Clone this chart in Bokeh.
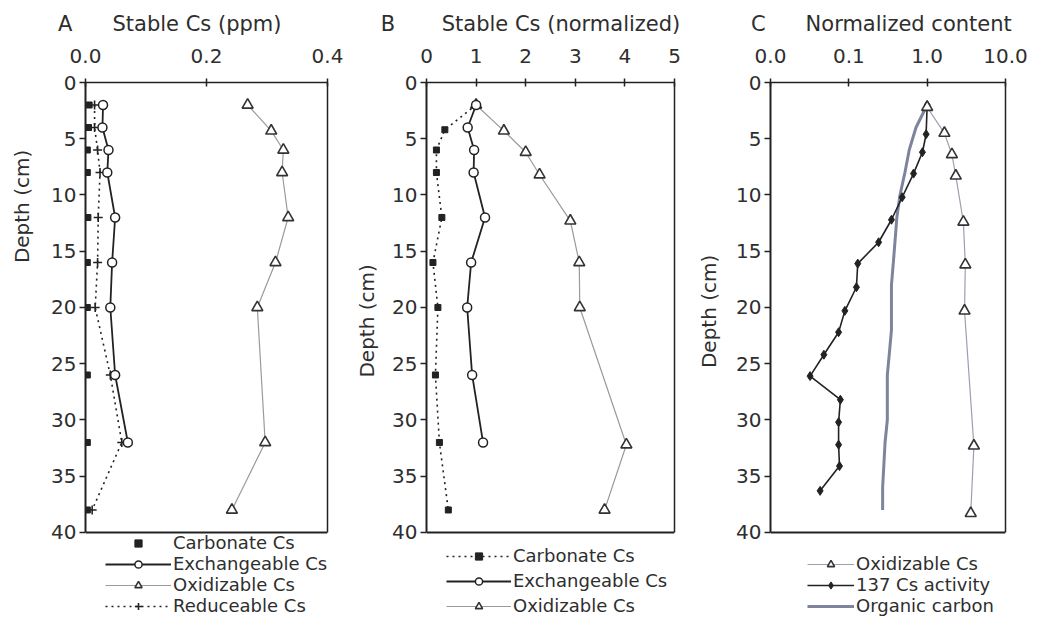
from bokeh.plotting import figure
from bokeh.layouts import row
from bokeh.models import (Range1d, FixedTicker, Legend, LegendItem, NumeralTickFormatter,
                          LinearAxis, Span)
from bokeh.embed import file_html
from bokeh.resources import INLINE

# ---------------- data ----------------
# Panel A: stable Cs (ppm)
a_depth = [2, 4, 6, 8, 12, 16, 20, 26, 32, 38]
a_carbonate = [0.006, 0.005, 0.003, 0.003, 0.004, 0.003, 0.003, 0.003, 0.003, 0.003]
a_exch_depth = [2, 4, 6, 8, 12, 16, 20, 26, 32]
a_exchangeable = [0.029, 0.028, 0.038, 0.036, 0.049, 0.044, 0.041, 0.049, 0.070]
a_oxid_depth = [2, 4.3, 6, 8, 12, 16, 20, 32, 38]
a_oxidizable = [0.268, 0.307, 0.327, 0.325, 0.335, 0.314, 0.284, 0.297, 0.242]
a_reduceable = [0.015, 0.015, 0.020, 0.024, 0.021, 0.020, 0.016, 0.041, 0.060, 0.011]
a_ticks = [0.0, 0.2, 0.4]

# Panel B: stable Cs (normalized)
b_depth = [2, 4.2, 6, 8, 12, 16, 20, 26, 32, 38]
b_carbonate = [1.0, 0.37, 0.20, 0.20, 0.31, 0.13, 0.23, 0.18, 0.26, 0.44]
b_exch_depth = [2, 4, 6, 8, 12, 16, 20, 26, 32]
b_exchangeable = [1.0, 0.83, 0.96, 0.95, 1.18, 0.90, 0.82, 0.92, 1.14]
b_oxid_depth = [2, 4.3, 6.2, 8.2, 12.3, 16, 20, 32.2, 38]
b_oxidizable = [1.0, 1.56, 2.0, 2.28, 2.9, 3.08, 3.09, 4.03, 3.59]
b_ticks = [0, 1, 2, 3, 4, 5]

# Panel C: normalized content (log scale)
c_oxid_depth = [2.2, 4.5, 6.4, 8.3, 12.4, 16.2, 20.3, 32.3, 38.3]
c_oxidizable = [1.0, 1.66, 2.07, 2.32, 2.9, 3.07, 3.0, 3.95, 3.6]
c_cs_depth = [2, 4.6, 6.2, 8.1, 10.2, 12.2, 14.2, 16.1, 18.2, 20.3, 22.2, 24.2, 26.1, 28.2, 30.2, 32.2, 34.1, 36.3]
c_cs137 = [1.0, 0.97, 0.87, 0.67, 0.48, 0.35, 0.24, 0.13, 0.125, 0.089, 0.074, 0.048, 0.032,
           0.078, 0.074, 0.074, 0.076, 0.043]
c_oc_depth = [2, 4, 6, 8, 10, 12, 14, 16, 18, 20, 22, 24, 26, 28, 30, 32, 34, 36, 38]
c_organic = [1.0, 0.72, 0.59, 0.52, 0.45, 0.41, 0.39, 0.37, 0.35, 0.35, 0.35, 0.33, 0.31,
             0.31, 0.31, 0.29, 0.28, 0.27, 0.27]
c_ticks = [0.01, 0.1, 1, 10]
c_tick_labels = ["0.0", "0.1", "1.0", "10.0"]

y_ticks = [0, 5, 10, 15, 20, 25, 30, 35, 40]
DEPTH_MAX = 40

# ---------------- style ----------------
FONT = "DejaVu Sans"
TXT = "#2e2e2e"
OX_LINE = "#9a9a9a"
MK = "#333333"
EDGE = "#222222"
NB = "\u00a0"
# the plotting frame continues below the 40 cm line so the legends sit inside it
Y_BOTTOM = 47.47


def make_fig(width, left, right, x_range, title, ylab_pad, ylab_standoff, x_type="linear"):
    p = figure(width=width, height=616, x_range=x_range, y_range=Range1d(Y_BOTTOM, 0),
               x_axis_location="above", x_axis_type=x_type,
               output_backend="svg", toolbar_location=None,
               min_border_left=left, min_border_right=right,
               min_border_top=82, min_border_bottom=0)
    p.grid.visible = False
    p.outline_line_color = None
    xa = p.xaxis[0]
    xa.major_tick_in = 4
    xa.major_tick_out = 4
    xa.minor_tick_in = 0
    xa.minor_tick_out = 0
    xa.axis_line_color = EDGE
    xa.axis_line_width = 1.5
    xa.major_tick_line_color = EDGE
    xa.major_tick_line_width = 1.5
    xa.major_label_text_font = FONT
    xa.major_label_text_font_size = "20px"
    xa.major_label_text_color = TXT
    xa.major_label_standoff = 16
    xa.axis_label = title
    xa.axis_label_text_font = FONT
    xa.axis_label_text_font_size = "21px"
    xa.axis_label_text_font_style = "normal"
    xa.axis_label_text_color = TXT
    xa.axis_label_standoff = 10
    ya = p.yaxis[0]
    ya.ticker = FixedTicker(ticks=y_ticks)
    ya.bounds = (0, DEPTH_MAX)
    ya.major_tick_in = 0
    ya.major_tick_out = 6
    ya.minor_tick_in = 0
    ya.minor_tick_out = 0
    ya.axis_line_color = EDGE
    ya.axis_line_width = 2
    ya.major_tick_line_color = EDGE
    ya.major_tick_line_width = 1.5
    ya.major_label_text_font = FONT
    ya.major_label_text_font_size = "20px"
    ya.major_label_text_color = TXT
    ya.major_label_standoff = 3
    ya.axis_label = NB * ylab_pad + "Depth (cm)"
    ya.axis_label_text_font = FONT
    ya.axis_label_text_font_size = "20px"
    ya.axis_label_text_font_style = "normal"
    ya.axis_label_text_color = TXT
    ya.axis_label_standoff = ylab_standoff
    # right edge of the box
    ra = LinearAxis(bounds=(0, DEPTH_MAX), ticker=FixedTicker(ticks=[]),
                    major_tick_out=0, major_tick_in=0, minor_tick_out=0, minor_tick_in=0,
                    major_label_text_font_size="0px", axis_line_color=EDGE, axis_line_width=1.5)
    p.add_layout(ra, "right")
    # bottom edge of the box
    p.add_layout(Span(location=DEPTH_MAX, dimension="width", line_color=EDGE, line_width=2))
    return p


def make_legend(p, items, vx, glyph_w, spacing):
    lg = Legend(items=items, location=(vx, 0),
                orientation="vertical", padding=0, margin=0, spacing=spacing,
                glyph_width=glyph_w, glyph_height=18, label_height=18, label_standoff=2,
                label_text_font=FONT, label_text_font_size="18px", label_text_color=TXT,
                border_line_alpha=0, background_fill_alpha=0)
    p.add_layout(lg, "center")


# ---------------- Panel A ----------------
pa = make_fig(352, 85, 25, Range1d(0, 0.4), "A" + NB * 6 + "Stable Cs (ppm)" + NB * 11, 45, 14)
pa.xaxis[0].ticker = FixedTicker(ticks=a_ticks)
pa.xaxis[0].formatter = NumeralTickFormatter(format="0.0")

ra_red_l = pa.line(a_reduceable, a_depth, line_color=EDGE, line_width=1.6, line_dash="2 4")
ra_red_m = pa.scatter(a_reduceable, a_depth, marker="cross", size=9, line_color=EDGE, line_width=1.6)
ra_ox_l = pa.line(a_oxidizable, a_oxid_depth, line_color=OX_LINE, line_width=1.2)
ra_ox_m = pa.scatter(a_oxidizable, a_oxid_depth, marker="triangle", size=11, fill_color="white",
                     line_color=MK, line_width=1.6)
ra_ex_l = pa.line(a_exchangeable, a_exch_depth, line_color=EDGE, line_width=1.8)
ra_ex_m = pa.scatter(a_exchangeable, a_exch_depth, marker="circle", size=9, fill_color="white",
                     line_color=EDGE, line_width=1.5)
ra_ca_m = pa.scatter(a_carbonate, a_depth, marker="square", size=6, fill_color=EDGE, line_color=EDGE)
make_legend(pa, [LegendItem(label="Carbonate Cs", renderers=[ra_ca_m]),
                 LegendItem(label="Exchangeable Cs", renderers=[ra_ex_l, ra_ex_m]),
                 LegendItem(label="Oxidizable Cs", renderers=[ra_ox_l, ra_ox_m]),
                 LegendItem(label="Reduceable Cs", renderers=[ra_red_l, ra_red_m])],
            20, 66, 0)

# ---------------- Panel B ----------------
pb = make_fig(342, 71, 20, Range1d(0, 5), "B" + NB * 7 + "Stable Cs (normalized)" + NB * 6, 9, 10)
pb.xaxis[0].ticker = FixedTicker(ticks=b_ticks)

rb_ca_l = pb.line(b_carbonate, b_depth, line_color=EDGE, line_width=1.6, line_dash="2 4")
rb_ca_m = pb.scatter(b_carbonate, b_depth, marker="square", size=6, fill_color=EDGE, line_color=EDGE)
rb_ox_l = pb.line(b_oxidizable, b_oxid_depth, line_color=OX_LINE, line_width=1.2)
rb_ox_m = pb.scatter(b_oxidizable, b_oxid_depth, marker="triangle", size=11, fill_color="white",
                     line_color=MK, line_width=1.6)
rb_ex_l = pb.line(b_exchangeable, b_exch_depth, line_color=EDGE, line_width=1.8)
rb_ex_m = pb.scatter(b_exchangeable, b_exch_depth, marker="circle", size=9, fill_color="white",
                     line_color=EDGE, line_width=1.5)
make_legend(pb, [LegendItem(label="Carbonate Cs", renderers=[rb_ca_l, rb_ca_m]),
                 LegendItem(label="Exchangeable Cs", renderers=[rb_ex_l, rb_ex_m]),
                 LegendItem(label="Oxidizable Cs", renderers=[rb_ox_l, rb_ox_m])],
            20, 65, 4)

# ---------------- Panel C ----------------
pc = make_fig(335, 76, 24, Range1d(0.01, 10), "C" + NB * 6 + "Normalized content" + NB * 2, 12, 12,
              x_type="log")
pc.xaxis[0].ticker = FixedTicker(ticks=c_ticks)
pc.xaxis[0].major_label_overrides = {t: s for t, s in zip(c_ticks, c_tick_labels)}

rc_oc = pc.line(c_organic, c_oc_depth, line_color="#7d849c", line_width=3)
rc_cs_l = pc.line(c_cs137, c_cs_depth, line_color=EDGE, line_width=1.6)
rc_cs_m = pc.scatter(c_cs137, c_cs_depth, marker="diamond", size=9, fill_color=EDGE, line_color=EDGE)
rc_ox_l = pc.line(c_oxidizable, c_oxid_depth, line_color="#9aa0b2", line_width=1.2)
rc_ox_m = pc.scatter(c_oxidizable, c_oxid_depth, marker="triangle", size=11, fill_color="white",
                     line_color=MK, line_width=1.6)
make_legend(pc, [LegendItem(label="Oxidizable Cs", renderers=[rc_ox_l, rc_ox_m]),
                 LegendItem(label="137 Cs activity", renderers=[rc_cs_l, rc_cs_m]),
                 LegendItem(label="Organic carbon", renderers=[rc_oc])],
            37, 47, 0)

layout = row(pa, pb, pc, spacing=0)
open("out.html", "w").write(file_html(layout, INLINE))
